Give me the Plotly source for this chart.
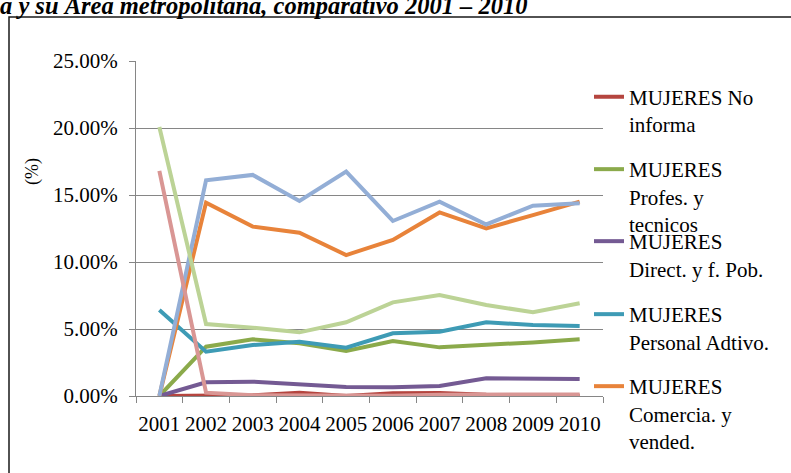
import plotly.graph_objects as go

# Occupational shares of women, 2001-2010 (percent)
years = ["2001", "2002", "2003", "2004", "2005", "2006", "2007", "2008", "2009", "2010"]

no_informa = [0.00, 0.05, 0.05, 0.25, 0.00, 0.20, 0.22, 0.10, 0.08, 0.02]
profesionales = [0.00, 3.68, 4.23, 3.93, 3.36, 4.10, 3.63, 3.80, 4.00, 4.23]
directivos = [0.00, 1.02, 1.07, 0.87, 0.67, 0.65, 0.75, 1.32, 1.29, 1.27]
administrativo = [6.42, 3.31, 3.80, 4.05, 3.60, 4.68, 4.80, 5.50, 5.30, 5.22]
comerciantes = [0.00, 14.43, 12.64, 12.19, 10.52, 11.64, 13.70, 12.51, 13.50, 14.50]
servicios = [0.00, 16.10, 16.50, 14.55, 16.74, 13.06, 14.50, 12.80, 14.20, 14.38]
agricolas = [20.08, 5.37, 5.10, 4.75, 5.50, 6.99, 7.54, 6.79, 6.25, 6.92]
operarios = [16.80, 0.25, 0.05, 0.05, 0.00, 0.02, 0.10, 0.10, 0.10, 0.12]

series = [
    ("MUJERES No<br>informa", no_informa, "#B5453F", "legend"),
    ("MUJERES<br>Profes. y<br>tecnicos", profesionales, "#8BAA4B", "legend2"),
    ("MUJERES<br>Direct. y f. Pob.", directivos, "#745A93", "legend3"),
    ("MUJERES<br>Personal Adtivo.", administrativo, "#3E9BB5", "legend4"),
    ("MUJERES<br>Comercia. y<br>vended.", comerciantes, "#E8833A", "legend5"),
    ("MUJERES Servicios", servicios, "#93AED6", None),
    ("MUJERES Agricolas", agricolas, "#BCD396", None),
    ("MUJERES Operarios", operarios, "#D99694", None),
]

SERIF = "Liberation Serif"
W, H = 791, 473
L, R, T, B = 136, 188, 61, 77
PW, PH = W - L - R, H - T - B


def px_x(x):
    return (x - L) / PW


def px_y(y):
    return (H - B - y) / PH


fig = go.Figure()
for name, vals, color, leg in series:
    fig.add_trace(go.Scatter(
        x=years,
        y=[v / 100 for v in vals],
        name=name,
        mode="lines",
        line=dict(color=color, width=4),
        showlegend=leg is not None,
        legend=leg if leg else "legend",
    ))

# one legend box per entry so every symbol sits at an even step
legend_rows = [97.7, 170, 242, 315, 387]
legend_common = dict(
    font=dict(family=SERIF, size=21, color="black"),
    bgcolor="rgba(0,0,0,0)",
    valign="top",
    xanchor="left",
    yanchor="top",
    x=px_x(589),
)
legend_keys = ["legend", "legend2", "legend3", "legend4", "legend5"]
layout_legends = {}
for key, ry in zip(legend_keys, legend_rows):
    layout_legends[key] = dict(legend_common, y=px_y(ry - 21))

fig.update_layout(
    width=W,
    height=H,
    margin=dict(l=L, r=R, t=T, b=B),
    paper_bgcolor="white",
    plot_bgcolor="white",
    font=dict(family=SERIF, size=21, color="black"),
    xaxis=dict(
        type="category",
        range=[-0.5, 9.5],
        tickson="boundaries",
        ticks="outside",
        ticklen=6,
        tickcolor="#868686",
        tickangle=0,
        ticklabelstandoff=9,
        showline=True,
        linecolor="#868686",
        linewidth=1,
        showgrid=False,
        zeroline=False,
        tickfont=dict(family=SERIF, size=21, color="black"),
    ),
    yaxis=dict(
        range=[0, 0.25],
        dtick=0.05,
        tickformat=".2%",
        ticks="outside",
        ticklen=6,
        tickcolor="#868686",
        ticklabelstandoff=7,
        showline=True,
        linecolor="#868686",
        linewidth=1,
        showgrid=True,
        gridcolor="#868686",
        gridwidth=1,
        zeroline=False,
        tickfont=dict(family=SERIF, size=21, color="black"),
    ),
    showlegend=True,
    **layout_legends,
)

# outer frame
fig.add_shape(
    type="rect", xref="paper", yref="paper",
    x0=px_x(9), y0=px_y(490), x1=px_x(810), y1=px_y(17),
    line=dict(color="#1a1a1a", width=1.5),
    fillcolor="rgba(0,0,0,0)", layer="below",
)

# axis caption
fig.add_annotation(
    text="(%)", xref="paper", yref="paper",
    x=px_x(32), y=px_y(172), showarrow=False, textangle=-90,
    xanchor="center", yanchor="middle",
    font=dict(family=SERIF, size=18, color="black"),
)

# heading
fig.add_annotation(
    text="<b><i>a y su Área metropolitana, comparativo 2001 – 2010</i></b>",
    xref="paper", yref="paper",
    x=px_x(-2), y=px_y(6), showarrow=False,
    xanchor="left", yanchor="middle",
    font=dict(family=SERIF, size=24.5, color="black"),
)

fig.write_html("out.html")
